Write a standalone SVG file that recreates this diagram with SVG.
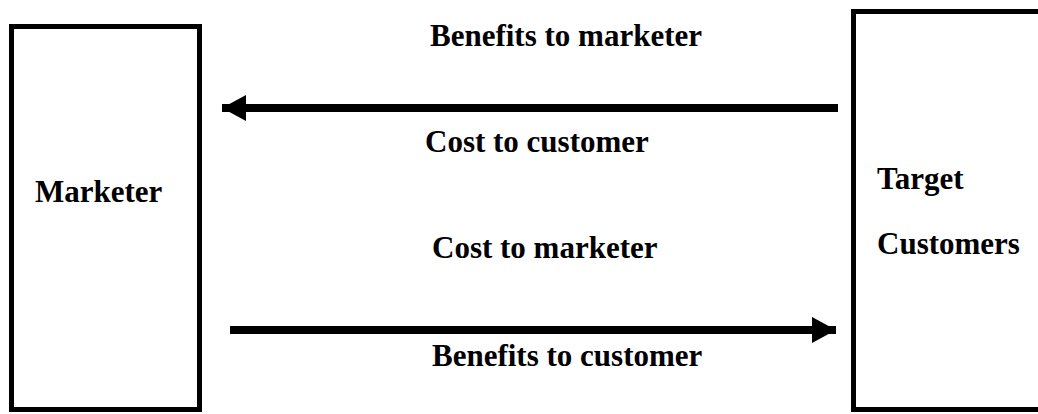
<svg xmlns="http://www.w3.org/2000/svg" width="1038" height="414" viewBox="0 0 1038 414">
<style>
.box{fill:#fff;stroke:#000;stroke-width:5}
.t{font-family:"Liberation Serif","Times New Roman",serif;font-weight:bold;font-size:31px;fill:#000}
.ln{stroke:#000;stroke-width:8;fill:none}
</style>
<defs>
<marker id="ah" markerWidth="24" markerHeight="26" viewBox="0 0 24 26" refX="24" refY="13" orient="auto" markerUnits="userSpaceOnUse">
<path d="M0,0 L24,13 L0,26 Z" fill="#000"/>
</marker>
</defs>
<rect width="1038" height="414" fill="#fff"/>
<g id="marketer">
<rect class="box" x="11.5" y="26.5" width="188" height="383"/>
<text class="t" x="35" y="202">Marketer</text>
</g>
<g id="target-customers">
<rect class="box" x="853.5" y="11.5" width="200" height="398"/>
<text class="t" x="877" y="189">Target</text>
<text class="t" x="877" y="254">Customers</text>
</g>
<g id="connectors">
<line class="ln" x1="838" y1="108" x2="222" y2="108" marker-end="url(#ah)"/>
<line class="ln" x1="230" y1="330" x2="836" y2="330" marker-end="url(#ah)"/>
</g>
<g id="labels">
<text class="t" x="430" y="46">Benefits to marketer</text>
<text class="t" x="425" y="152">Cost to customer</text>
<text class="t" x="432" y="258">Cost to marketer</text>
<text class="t" x="432" y="366">Benefits to customer</text>
</g>
</svg>
